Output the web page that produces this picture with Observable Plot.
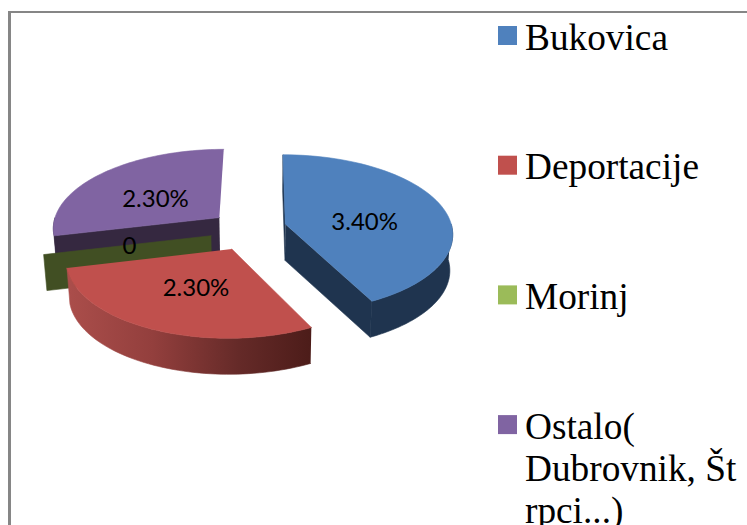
<!DOCTYPE html>
<html>
<head>
<meta charset="utf-8">
<script src="https://cdn.jsdelivr.net/npm/d3@7"></script>
<script src="https://cdn.jsdelivr.net/npm/@observablehq/plot@0.6"></script>
<style>
html,body{margin:0;padding:0;background:#fff;overflow:hidden}
svg{display:block}
</style>
</head>
<body>
<div id="chart"></div>
<script>
// Data
const categories = ["Bukovica", "Deportacije", "Morinj", "Ostalo"];
const values = [3.4, 2.3, 0, 2.3];
const valueLabels = ["3.40%", "2.30%", "0", "2.30%"];
const legendLabels = ["Bukovica", "Deportacije", "Morinj", "Ostalo(\nDubrovnik, Št\nrpci...)"];

// Styles
const topColors = ["#4f81bd", "#c0504d", "#9bbb59", "#8064a2"];
const sideColors = ["#1f344f", "url(#redWall)", "#414f23", "#352840"];
const drawOrder = [3, 2, 0, 1];
const showStartCut = [true, false, true, true];
const showEndCut = [true, false, false, false];

// Camera of the 3D pie
const W = 747, H = 525;
const view = {cx: 248, cy: 228, vx: 262, radius: 167, tilt: 0.47, persp: 0.115, explode: 38, depth: 36, shrink: 0.985};
const radiusScale = [1, 0.96, 0.99, 1];
const sliceDrop = [0, 4, 3, 0];
const labelDx = [0, 2, 1, -3];
const labelDy = [7, 1, 1, 4];

const total = d3.sum(values);
const starts = d3.cumsum([0, ...values]).map(v => v / total * 2 * Math.PI);

function project(slice, angle, rim, bottom) {
  const mid = (starts[slice] + starts[slice + 1]) / 2;
  const r = rim * view.radius * radiusScale[slice];
  const u = view.explode * Math.sin(mid) + r * Math.sin(angle);
  const v = view.explode * Math.cos(mid) + r * Math.cos(angle);
  const s = 1 / (1 + view.persp * v / view.radius);
  let x = view.vx + (view.cx - view.vx + u) * s;
  let y = view.cy + sliceDrop[slice] - v * s * view.tilt;
  if (bottom) {
    x = view.vx + (x - view.vx) * view.shrink;
    y += view.depth;
  }
  return {x, y};
}

function arc(slice, a0, a1, bottom) {
  return d3.range(61).map(i => project(slice, a0 + (a1 - a0) * i / 60, 1, bottom));
}

function cutFace(slice, angle) {
  return [
    project(slice, angle, 0, false),
    project(slice, angle, 1, false),
    project(slice, angle, 1, true),
    project(slice, angle, 0, true)
  ];
}

const shapes = [];
for (const i of drawOrder) {
  const a0 = starts[i], a1 = starts[i + 1];
  if (showStartCut[i]) shapes.push({points: cutFace(i, a0), fill: sideColors[i]});
  if (showEndCut[i]) shapes.push({points: cutFace(i, a1), fill: sideColors[i]});
  const w0 = Math.max(a0, Math.PI / 2), w1 = Math.min(a1, 3 * Math.PI / 2);
  if (w1 > w0) shapes.push({points: [...arc(i, w0, w1, false), ...arc(i, w0, w1, true).reverse()], fill: sideColors[i]});
  if (values[i] > 0) shapes.push({points: [project(i, a0, 0, false), ...arc(i, a0, a1, false)], fill: topColors[i]});
}

// label rows
const labels = values.map((_, i) => {
  const m = (starts[i] + starts[i + 1]) / 2;
  const p = project(i, m, 0.5, false);
  return {x: p.x + labelDx[i], y: p.y + labelDy[i], text: valueLabels[i]};
});

// legend rows
const legendTop = 26, legendStep = 129.7, swatch = 19, legendX = 498;
const legend = categories.map((c, i) => ({
  x1: legendX, x2: legendX + swatch,
  y1: legendTop + i * legendStep, y2: legendTop + i * legendStep + swatch,
  tx: legendX + swatch + 7.5, ty: legendTop + i * legendStep - 7,
  label: legendLabels[i], color: topColors[i]
}));

function defsMark() {
  const defs = d3.create("svg:defs");
  const g = defs.append("linearGradient").attr("id", "redWall")
    .attr("gradientUnits", "userSpaceOnUse")
    .attr("x1", 66).attr("x2", 312).attr("y1", 0).attr("y2", 0);
  [[0, "#ab4e4b"], [0.35, "#933f3d"], [0.7, "#652a28"], [1, "#4c1c19"]].forEach(([o, c]) =>
    g.append("stop").attr("offset", o).attr("stop-color", c));
  return defs.node();
}

const chart = Plot.plot({
  width: W, height: H,
  margin: 0,
  style: {background: "#fff", overflow: "hidden"},
  x: {domain: [0, W], range: [0, W], axis: null},
  y: {domain: [0, H], range: [0, H], axis: null},
  marks: [
    defsMark,
    Plot.ruleX([9], {y1: 11, y2: H, stroke: "#868686", strokeWidth: 3}),
    Plot.ruleY([11.5], {x1: 8, x2: W, stroke: "#868686", strokeWidth: 2}),
    ...shapes.map(s => Plot.line(s.points, {x: "x", y: "y", fill: s.fill, stroke: s.fill, strokeWidth: 0.6, curve: "linear"})),
    Plot.text(labels, {x: "x", y: "y", text: "text", fill: "#000", fontFamily: "Lato", fontSize: 24}),
    Plot.rect(legend, {x1: "x1", x2: "x2", y1: "y1", y2: "y2", fill: d => d.color}),
    Plot.text(legend, {x: "tx", y: "ty", text: "label", fill: "#000", textAnchor: "start", lineAnchor: "top",
      lineHeight: 1.135, fontFamily: "Liberation Serif", fontSize: 37.3})
  ]
});
document.getElementById("chart").appendChild(chart);
</script>
</body>
</html>
